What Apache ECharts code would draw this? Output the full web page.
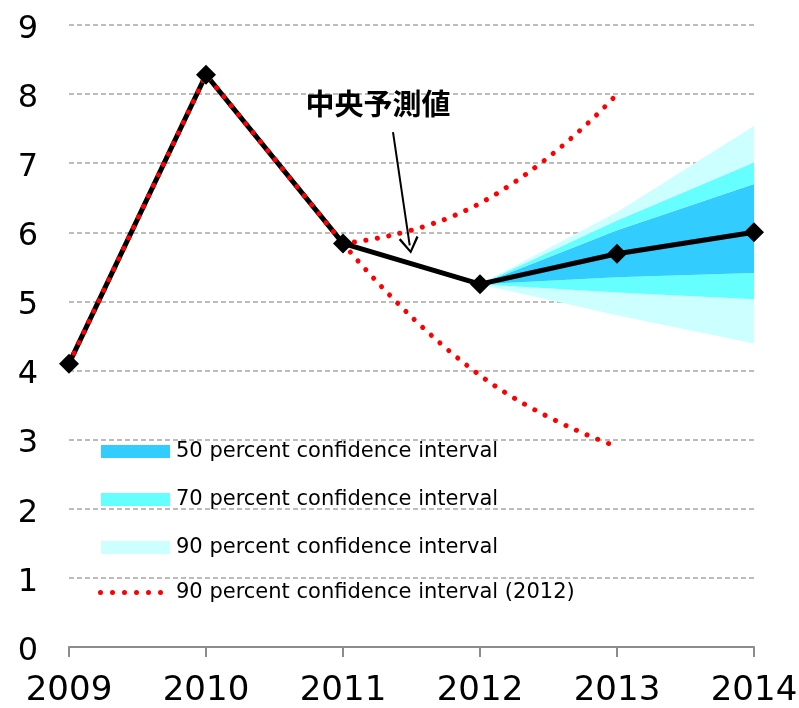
<!DOCTYPE html>
<html><head><meta charset="utf-8">
<script src="https://cdn.jsdelivr.net/npm/echarts@6/dist/echarts.min.js"></script>
<style>html,body{margin:0;padding:0;background:#fff}#c{width:799px;height:708px}</style>
</head><body><div id="c"></div>
<script>
// ---- data ----
const years = [2009, 2010, 2011, 2012, 2013, 2014];
const central = [4.1, 8.28, 5.84, 5.25, 5.69, 6.0];
const historyYears = [2009, 2010, 2011];
const history = [4.1, 8.28, 5.84];
const fanYears = [2012, 2013, 2014];
const lower90 = [5.25, 4.80, 4.39];
const lower70 = [5.25, 5.13, 5.03];
const lower50 = [5.25, 5.35, 5.41];
const upper50 = [5.25, 6.03, 6.70];
const upper70 = [5.25, 6.17, 7.01];
const upper90 = [5.25, 6.29, 7.54];
const prevYears = [2011, 2012, 2013];
const prevUpper90 = [5.84, 6.42, 8.0];
const prevLower90 = [5.84, 3.93, 2.90];
const N50 = '50 percent confidence interval';
const N70 = '70 percent confidence interval';
const N90 = '90 percent confidence interval';
const NR = '90 percent confidence interval (2012)';
const annotation = '中央予測値';

// ---- helpers ----
const pairs = (xs, ys) => xs.map((x, i) => [x, ys[i]]);
// fan values aligned to the category axis (years); '-' where no fan
const onYears = vals => years.map(y => {
  const i = fanYears.indexOf(y);
  return i < 0 ? '-' : vals[i];
});
const diff = (a, b) => a.map((v, i) => +(v - b[i]).toFixed(4));
const C50 = '#33CCFF', C70 = '#66FFFF', C90 = '#CCFFFF';
const FONT = '"DejaVu Sans", "Liberation Sans", Arial, sans-serif';

function band(name, vals, color) {
  return {
    name, type: 'line', stack: 'fan', xAxisIndex: 1, data: onYears(vals),
    symbol: 'none', silent: true,
    color, itemStyle: { color },
    lineStyle: { width: 0, color },
    areaStyle: { color, opacity: 1 }
  };
}
const redLine = { color: '#FF0000', width: 5, type: [0.1, 11.5], cap: 'round' };
function red(data, smooth) {
  return {
    name: NR, type: 'line', data, symbol: 'none', smooth: smooth, silent: true,
    color: '#FF0000', itemStyle: { color: '#FF0000' }, lineStyle: redLine
  };
}
// legend icon: six red dots
const dotIcon = 'path://' + [0, 1, 2, 3, 4, 5].map(k => {
  const cx = 2.5 + k * 12;
  return `M${cx - 2.5},2.5 A2.5,2.5 0 1,0 ${cx + 2.5},2.5 A2.5,2.5 0 1,0 ${cx - 2.5},2.5 Z`;
}).join(' ');

const chart = echarts.init(document.getElementById('c'));
chart.setOption({
  animation: false,
  backgroundColor: '#fff',
  textStyle: { fontFamily: FONT },
  grid: { left: 69, right: 45, top: 25, bottom: 61, containLabel: false, outerBoundsMode: 'none' },
  xAxis: [{
    type: 'value', min: 2009, max: 2014, interval: 1,
    axisLine: { show: true, lineStyle: { color: '#8C8C8C', width: 2 } },
    axisTick: { show: true, length: 10, lineStyle: { color: '#8C8C8C', width: 2 } },
    axisLabel: { fontSize: 34, color: '#000', margin: 27, fontFamily: FONT, formatter: v => String(v), hideOverlap: false },
    splitLine: { show: false }
  }, {
    type: 'category', data: years.map(String), boundaryGap: false, show: false
  }],
  yAxis: {
    type: 'value', min: 0, max: 9, interval: 1,
    axisLine: { show: false }, axisTick: { show: false },
    axisLabel: {
      fontSize: 32, color: '#000', margin: 31, fontFamily: FONT,
      formatter: v => '{n|' + v + '}',
      rich: { n: { fontSize: 32, color: '#000', fontFamily: FONT, padding: [9, 0, 0, 0] } }
    },
    splitLine: { show: true, lineStyle: { color: '#A6A6A6', width: 1.5, type: [5, 3] } }
  },
  legend: [{
    orient: 'vertical', left: 101, top: 441, padding: 0,
    itemWidth: 69, itemHeight: 13, itemGap: 27,
    textStyle: { fontSize: 21, color: '#000', fontFamily: FONT, padding: [0, 0, 0, 1] },
    selectedMode: false,
    data: [
      { name: N50, icon: 'rect' },
      { name: N70, icon: 'rect' },
      { name: N90, icon: 'rect' }
    ]
  }, {
    orient: 'vertical', left: 98, top: 582, padding: 0,
    itemWidth: 65, itemHeight: 5,
    textStyle: { fontSize: 21, color: '#000', fontFamily: FONT, padding: [0, 0, 0, 8] },
    selectedMode: false,
    data: [{ name: NR, icon: dotIcon, itemStyle: { color: '#FF0000' } }]
  }],
  series: [
    {
      name: 'base', type: 'line', stack: 'fan', xAxisIndex: 1, data: onYears(lower90),
      symbol: 'none', silent: true, lineStyle: { opacity: 0, width: 0 }
    },
    band(N90, diff(lower70, lower90), C90),
    band(N70, diff(lower50, lower70), C70),
    band(N50, diff(upper50, lower50), C50),
    band(N70, diff(upper70, upper50), C70),
    band(N90, diff(upper90, upper70), C90),
    {
      name: 'central', type: 'line', data: pairs(years, central),
      symbol: 'diamond', symbolSize: 20, silent: true,
      color: '#000', itemStyle: { color: '#000' },
      lineStyle: { color: '#000', width: 5 },
      markLine: {
        silent: true, animation: false,
        symbol: ['none', 'path://M10,0 L20,15.5 L18,17 L10,4 L2,17 L0,15.5 Z'],
        symbolSize: [20, 17],
        lineStyle: { color: '#000', width: 2, type: 'solid' },
        label: { show: false },
        data: [[{ coord: [2011.365, 7.45] }, { coord: [2011.487, 5.81] }]]
      },
      markPoint: {
        silent: true, animation: false,
        symbol: 'circle', symbolSize: 0,
        label: {
          show: true, position: 'inside', formatter: annotation,
          fontSize: 29, fontWeight: 'bold', color: '#000',
          fontFamily: '"Noto Sans CJK JP", sans-serif'
        },
        data: [{ coord: [2011.255, 7.85] }]
      }
    },
    red(pairs(historyYears, history), false),
    red(pairs(prevYears, prevUpper90), 0.5),
    red(pairs(prevYears, prevLower90), 0.5)
  ]
});
</script></body></html>
